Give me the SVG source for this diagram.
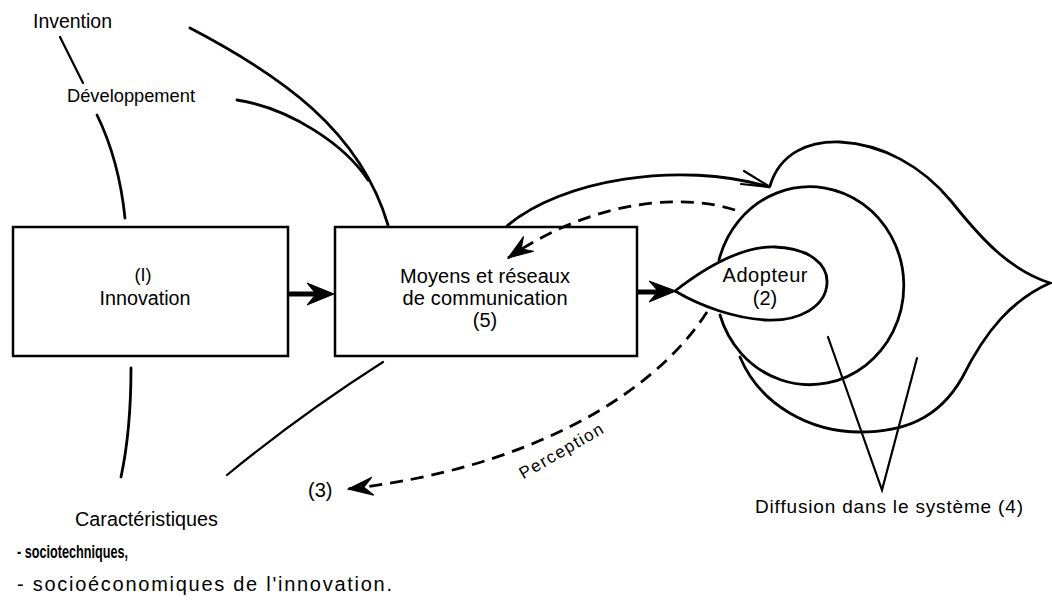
<svg xmlns="http://www.w3.org/2000/svg" width="1052" height="601" viewBox="0 0 1052 601">
<style>
  .t { font-family: "Liberation Sans", Arial, sans-serif; font-size: 20px; fill: #000; }
  .c { text-anchor: middle; }
  .box { fill: #fff; stroke: #000; stroke-width: 2.5; }
  .ln { fill: none; stroke: #000; stroke-width: 2.8; stroke-linecap: round; }
  .thin { fill: none; stroke: #000; stroke-width: 2.2; stroke-linecap: round; }
  .dash { fill: none; stroke: #000; stroke-width: 2.8; stroke-dasharray: 13 8; }
  .thick { fill: none; stroke: #000; stroke-width: 5; }
  .head { fill: #000; stroke: #000; stroke-width: 1; stroke-linejoin: round; }
</style>
<defs>
  <marker id="barb" markerUnits="userSpaceOnUse" viewBox="-27 -11 29 22" refX="0" refY="0" markerWidth="29" markerHeight="22" orient="auto">
    <path d="M0,0 L-25,-9 L-16,0 L-25,9 Z" fill="#000" stroke="#000" stroke-width="1" stroke-dasharray="none"/>
  </marker>
</defs>

<g id="labels-top">
  <text class="t" x="33" y="28" textLength="79" lengthAdjust="spacingAndGlyphs">Invention</text>
  <text class="t" x="67" y="102" style="font-size:19px" textLength="128" lengthAdjust="spacingAndGlyphs">Développement</text>
</g>

<g id="node-innovation">
  <rect class="box" x="13" y="227" width="275" height="129"/>
  <text class="t c" x="143" y="281" style="font-size:18px">(I)</text>
  <text class="t c" x="145" y="305" textLength="91" lengthAdjust="spacingAndGlyphs">Innovation</text>
</g>

<g id="node-moyens">
  <rect class="box" x="335" y="227" width="302" height="129"/>
  <text class="t c" x="485" y="283" textLength="170" lengthAdjust="spacing">Moyens et réseaux</text>
  <text class="t c" x="485" y="305" textLength="165" lengthAdjust="spacing">de communication</text>
  <text class="t c" x="485" y="327">(5)</text>
</g>

<g id="node-systeme">
  <path class="ln" d="M770,186 C 780,152 810,141 840,142 C 882,144 922,166 951,201 C 982,240 1010,270 1050,283 C 1012,300 986,330 962,378 C 938,420 902,432 860,432 C 810,432 760,405 740,357"/>
  <path class="ln" d="M719,260 A 94 99 0 1 1 720,315"/>
</g>

<g id="node-adopteur">
  <path class="ln" d="M675,291 C 702,270 740,246 775,247 C 810,248 828,265 827,283 C 826,306 800,322 765,320 C 735,318 702,307 675,291 Z" fill="#fff"/>
  <text class="t c" x="765" y="282" textLength="85" lengthAdjust="spacing">Adopteur</text>
  <text class="t c" x="765" y="305">(2)</text>
</g>

<g id="labels-bottom">
  <text class="t" x="75" y="526" textLength="143" lengthAdjust="spacingAndGlyphs">Caractéristiques</text>
  <text class="t" x="17" y="558" style="font-size:19px;font-weight:bold" textLength="111" lengthAdjust="spacingAndGlyphs">- sociotechniques,</text>
  <text class="t" x="17" y="591" textLength="375" lengthAdjust="spacing">- socioéconomiques de l'innovation.</text>
  <text class="t" x="308" y="497">(3)</text>
  <text class="t" x="755" y="513" style="font-size:19px" textLength="268" lengthAdjust="spacing">Diffusion dans le système (4)</text>
  <text class="t c" x="564" y="456" style="font-size:17px" transform="rotate(-30 564 456)" textLength="94" lengthAdjust="spacing">Perception</text>
</g>

<g id="connectors">
  <path class="thin" d="M60,37 L83,83"/>
  <path class="ln" d="M97,115 Q 119,160 125,218"/>
  <path class="ln" d="M190,28 C 280,75 360,130 388,225"/>
  <path class="ln" d="M237,100 C 290,108 345,145 368,180"/>
  <path class="ln" d="M131,368 Q 131,430 121,477"/>
  <path class="thin" d="M383,362 Q 300,415 227,475"/>
  <path class="thick" d="M288,294 L318,294"/>
  <path class="head" d="M334,294 L307,283 L316,294 L307,305 Z"/>
  <path class="thick" d="M637,292 L662,292"/>
  <path class="head" d="M676,291 L649,281 L658,291 L649,302 Z"/>
  <path class="ln" d="M507,226 C 560,180 680,160 769,187"/>
  <path class="thin" d="M744,171 L770,187 L741,184"/>
  <path class="dash" d="M735,210 C 690,195 600,195 508,258" marker-end="url(#barb)"/>
  <path class="dash" d="M707,312 C 650,400 520,470 348,489" marker-end="url(#barb)"/>
  <path class="thin" d="M828,337 L882,490 L917,358"/>
</g>
</svg>
